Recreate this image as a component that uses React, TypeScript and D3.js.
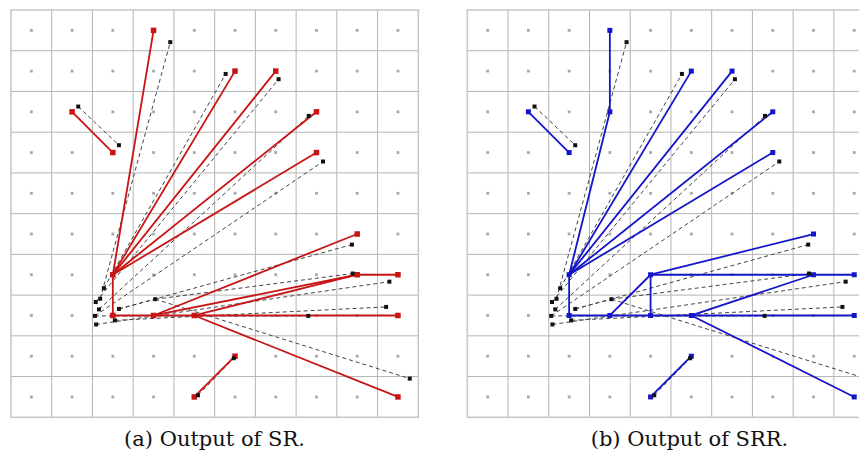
import * as d3 from "d3";

// grid cells (cell centres are integer coordinates 0..9, y grows downward)
const gridCells = d3.range(10);
const gridEdges = d3.range(11).map((i) => i - 0.5);

// segments: [x1, y1, x2, y2] in grid units
const srSegments: number[][] = [
  [2, 6, 3, 0],
  [2, 6, 5, 1],
  [2, 6, 6, 1],
  [2, 6, 7, 2],
  [2, 6, 7, 3],
  [2, 6, 2, 7],
  [2, 7, 3, 7],
  [3, 7, 4, 7],
  [4, 7, 9, 7],
  [3, 7, 8, 5],
  [3, 7, 8, 6],
  [4, 7, 8, 6],
  [8, 6, 9, 6],
  [4, 7, 9, 9],
  [4, 9, 5, 8],
  [1, 2, 2, 3],
];

const srrSegments: number[][] = [
  [3, 0, 3, 2],
  [3, 2, 2, 6],
  [2, 6, 5, 1],
  [2, 6, 6, 1],
  [2, 6, 7, 2],
  [2, 6, 7, 3],
  [2, 6, 2, 7],
  [2, 7, 3, 7],
  [3, 7, 4, 7],
  [4, 7, 5, 7],
  [5, 7, 9, 7],
  [3, 7, 4, 6],
  [4, 6, 4, 7],
  [4, 6, 8, 6],
  [8, 6, 9, 6],
  [4, 6, 8, 5],
  [5, 7, 8, 6],
  [5, 7, 9, 9],
  [4, 9, 5, 8],
  [1, 2, 2, 3],
];

const truthSegments: number[][] = [
  [1.69, 6.59, 3.41, 0.29],
  [1.78, 6.33, 4.77, 1.07],
  [1.58, 6.67, 6.07, 1.2],
  [1.66, 6.85, 6.81, 2.1],
  [1.56, 7.01, 7.16, 3.22],
  [2.15, 6.84, 7.87, 5.26],
  [2.15, 6.84, 3.04, 6.6],
  [3.04, 6.6, 7.89, 5.97],
  [1.59, 7.22, 8.79, 6.17],
  [2.05, 7.12, 8.71, 6.79],
  [3.04, 6.6, 9.29, 8.55],
  [1.56, 7.01, 6.8, 7.01],
  [1.15, 1.87, 2.15, 2.82],
  [4.09, 8.96, 4.97, 8.05],
];

const captions = ["(a) Output of SR.", "(b) Output of SRR."];

const SIZE = 407.3;
const PANELS = [
  { x0: 11, y0: 10, segments: srSegments, color: "#c81414", caption: captions[0], cx: 214.5 },
  { x0: 467.3, y0: 10, segments: srrSegments, color: "#1414c8", caption: captions[1], cx: 689.5 },
];

function endpoints(segs: number[][]): number[][] {
  const seen = new Map<string, number[]>();
  segs.forEach((s) => {
    [[s[0], s[1]], [s[2], s[3]]].forEach((p) => seen.set(p.join(","), p));
  });
  return Array.from(seen.values());
}

function Panel({ x0, y0, segments, color }: { x0: number; y0: number; segments: number[][]; color: string }) {
  const x = d3.scaleLinear().domain([-0.5, 9.5]).range([0, SIZE]);
  const y = d3.scaleLinear().domain([-0.5, 9.5]).range([0, SIZE]);
  const pts = endpoints(segments);
  const truthPts = endpoints(truthSegments);
  const ms = color === "#c81414" ? 5.5 : 5;
  return (
    <g transform={`translate(${x0},${y0})`}>
      <rect x={0} y={0} width={SIZE} height={SIZE} fill="#fff" />
      {gridEdges.slice(1, -1).map((e) => (
        <g key={`g${e}`}>
          <line x1={x(e)} x2={x(e)} y1={0} y2={SIZE} stroke="#b4b4b4" strokeWidth={1} />
          <line x1={0} x2={SIZE} y1={y(e)} y2={y(e)} stroke="#b4b4b4" strokeWidth={1} />
        </g>
      ))}
      <rect x={0} y={0} width={SIZE} height={SIZE} fill="none" stroke="#c8c8c8" strokeWidth={1.6} />
      {gridCells.map((cx) =>
        gridCells.map((cy) => (
          <rect key={`d${cx}-${cy}`} x={x(cx) - 1.4} y={y(cy) - 1.4} width={2.8} height={2.8} fill="#a8a8a8" />
        ))
      )}
      {truthSegments.map((s, i) => (
        <line
          key={`t${i}`}
          x1={x(s[0])}
          y1={y(s[1])}
          x2={x(s[2])}
          y2={y(s[3])}
          stroke="#444"
          strokeWidth={1}
          strokeDasharray="4,3"
        />
      ))}
      {segments.map((s, i) => (
        <line
          key={`s${i}`}
          x1={x(s[0])}
          y1={y(s[1])}
          x2={x(s[2])}
          y2={y(s[3])}
          stroke={color}
          strokeWidth={1.8}
        />
      ))}
      {pts.map((p, i) => (
        <rect key={`p${i}`} x={x(p[0]) - ms / 2} y={y(p[1]) - ms / 2} width={ms} height={ms} fill={color} />
      ))}
      {truthPts.map((p, i) => (
        <rect key={`q${i}`} x={x(p[0]) - 2} y={y(p[1]) - 2} width={4} height={4} fill="#111" />
      ))}
    </g>
  );
}

export default function App() {
  return (
    <svg
      width={859}
      height={459}
      style={{ position: "absolute", left: 0, top: 0, background: "#fff" }}
    >
      <rect width={859} height={459} fill="#fff" />
      {PANELS.map((p) => (
        <Panel key={p.caption} x0={p.x0} y0={p.y0} segments={p.segments} color={p.color} />
      ))}
      {PANELS.map((p) => (
        <text
          key={`c${p.caption}`}
          x={p.cx}
          y={446}
          textAnchor="middle"
          fontFamily="'DejaVu Serif', serif"
          fontSize={21}
          fill="#111"
        >
          {p.caption}
        </text>
      ))}
    </svg>
  );
}
